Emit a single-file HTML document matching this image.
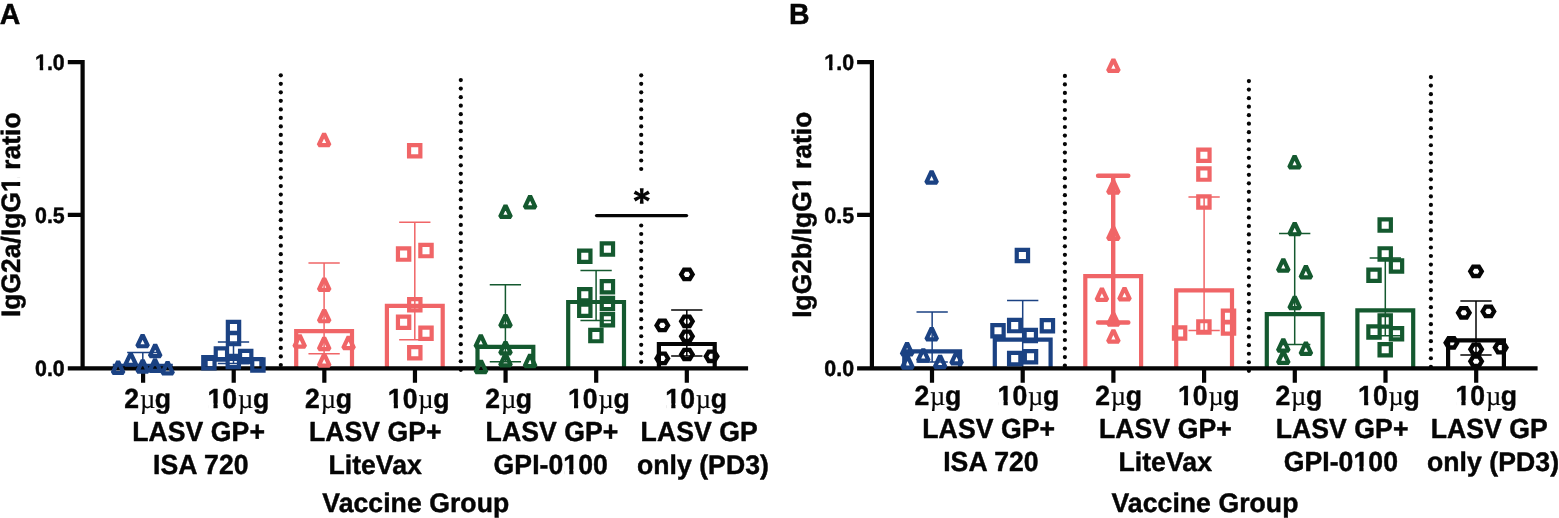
<!DOCTYPE html>
<html lang="en"><head><meta charset="utf-8"><title>IgG subclass ratios by vaccine group</title>
<style>html,body{margin:0;padding:0;background:#fff}svg{display:block}text{font-family:"Liberation Sans",Arial,sans-serif;font-weight:700;text-rendering:geometricPrecision;fill:#050505;stroke:#050505;stroke-width:4.5px;stroke-linejoin:round}.mu{font-family:"Liberation Serif","DejaVu Serif",serif;font-weight:400;stroke-width:1.5px}</style>
</head><body>
<svg width="1559" height="518" viewBox="0 0 1559 518">
<rect width="1559" height="518" fill="#fff"/>
<defs><clipPath id="c0"><path clip-rule="evenodd" d="M-3000 -700H6000V400H-3000ZM-292.57 -41.88H-250.27V40H-292.57ZM-216.34 -41.88H-176.76V40H-216.34Z"/></clipPath><clipPath id="c1"><path clip-rule="evenodd" d="M-3000 -700H6000V400H-3000ZM8.82 -47.23H60.07V40H8.82ZM101.2 -47.23H149.06V40H101.2Z"/></clipPath><clipPath id="c2"><path clip-rule="evenodd" d="M-3000 -700H6000V400H-3000ZM705.72 -47.23H756.97V40H705.72ZM798.1 -47.23H845.96V40H798.1Z"/></clipPath><clipPath id="c3"><path clip-rule="evenodd" d="M-3000 -700H6000V400H-3000ZM236.72 -47.03H287.62V40H236.72ZM328.48 -47.03H376.02V40H328.48Z"/></clipPath><clipPath id="c4"><path clip-rule="evenodd" d="M-3000 -700H6000V400H-3000ZM243.83 -47.03H294.74V40H243.83ZM335.6 -47.03H383.14V40H335.6Z"/></clipPath></defs>
<g fill="#050505">
<circle cx="280.8" cy="75.3" r="2.1"/>
<circle cx="280.8" cy="83.82" r="2.1"/>
<circle cx="280.8" cy="92.34" r="2.1"/>
<circle cx="280.8" cy="100.86" r="2.1"/>
<circle cx="280.8" cy="109.38" r="2.1"/>
<circle cx="280.8" cy="117.9" r="2.1"/>
<circle cx="280.8" cy="126.42" r="2.1"/>
<circle cx="280.8" cy="134.94" r="2.1"/>
<circle cx="280.8" cy="143.46" r="2.1"/>
<circle cx="280.8" cy="151.98" r="2.1"/>
<circle cx="280.8" cy="160.5" r="2.1"/>
<circle cx="280.8" cy="169.02" r="2.1"/>
<circle cx="280.8" cy="177.54" r="2.1"/>
<circle cx="280.8" cy="186.06" r="2.1"/>
<circle cx="280.8" cy="194.58" r="2.1"/>
<circle cx="280.8" cy="203.1" r="2.1"/>
<circle cx="280.8" cy="211.62" r="2.1"/>
<circle cx="280.8" cy="220.14" r="2.1"/>
<circle cx="280.8" cy="228.66" r="2.1"/>
<circle cx="280.8" cy="237.18" r="2.1"/>
<circle cx="280.8" cy="245.7" r="2.1"/>
<circle cx="280.8" cy="254.22" r="2.1"/>
<circle cx="280.8" cy="262.74" r="2.1"/>
<circle cx="280.8" cy="271.26" r="2.1"/>
<circle cx="280.8" cy="279.78" r="2.1"/>
<circle cx="280.8" cy="288.3" r="2.1"/>
<circle cx="280.8" cy="296.82" r="2.1"/>
<circle cx="280.8" cy="305.34" r="2.1"/>
<circle cx="280.8" cy="313.86" r="2.1"/>
<circle cx="280.8" cy="322.38" r="2.1"/>
<circle cx="280.8" cy="330.9" r="2.1"/>
<circle cx="280.8" cy="339.42" r="2.1"/>
<circle cx="280.8" cy="347.94" r="2.1"/>
<circle cx="280.8" cy="356.46" r="2.1"/>
<circle cx="280.8" cy="364.98" r="2.1"/>
<circle cx="460.8" cy="80.1" r="2.1"/>
<circle cx="460.8" cy="88.62" r="2.1"/>
<circle cx="460.8" cy="97.14" r="2.1"/>
<circle cx="460.8" cy="105.66" r="2.1"/>
<circle cx="460.8" cy="114.18" r="2.1"/>
<circle cx="460.8" cy="122.7" r="2.1"/>
<circle cx="460.8" cy="131.22" r="2.1"/>
<circle cx="460.8" cy="139.74" r="2.1"/>
<circle cx="460.8" cy="148.26" r="2.1"/>
<circle cx="460.8" cy="156.78" r="2.1"/>
<circle cx="460.8" cy="165.3" r="2.1"/>
<circle cx="460.8" cy="173.82" r="2.1"/>
<circle cx="460.8" cy="182.34" r="2.1"/>
<circle cx="460.8" cy="190.86" r="2.1"/>
<circle cx="460.8" cy="199.38" r="2.1"/>
<circle cx="460.8" cy="207.9" r="2.1"/>
<circle cx="460.8" cy="216.42" r="2.1"/>
<circle cx="460.8" cy="224.94" r="2.1"/>
<circle cx="460.8" cy="233.46" r="2.1"/>
<circle cx="460.8" cy="241.98" r="2.1"/>
<circle cx="460.8" cy="250.5" r="2.1"/>
<circle cx="460.8" cy="259.02" r="2.1"/>
<circle cx="460.8" cy="267.54" r="2.1"/>
<circle cx="460.8" cy="276.06" r="2.1"/>
<circle cx="460.8" cy="284.58" r="2.1"/>
<circle cx="460.8" cy="293.1" r="2.1"/>
<circle cx="460.8" cy="301.62" r="2.1"/>
<circle cx="460.8" cy="310.14" r="2.1"/>
<circle cx="460.8" cy="318.66" r="2.1"/>
<circle cx="460.8" cy="327.18" r="2.1"/>
<circle cx="460.8" cy="335.7" r="2.1"/>
<circle cx="460.8" cy="344.22" r="2.1"/>
<circle cx="460.8" cy="352.74" r="2.1"/>
<circle cx="460.8" cy="361.26" r="2.1"/>
<circle cx="460.8" cy="369.78" r="2.1"/>
<circle cx="641.2" cy="75.3" r="2.1"/>
<circle cx="641.2" cy="83.82" r="2.1"/>
<circle cx="641.2" cy="92.34" r="2.1"/>
<circle cx="641.2" cy="100.86" r="2.1"/>
<circle cx="641.2" cy="109.38" r="2.1"/>
<circle cx="641.2" cy="117.9" r="2.1"/>
<circle cx="641.2" cy="126.42" r="2.1"/>
<circle cx="641.2" cy="134.94" r="2.1"/>
<circle cx="641.2" cy="143.46" r="2.1"/>
<circle cx="641.2" cy="151.98" r="2.1"/>
<circle cx="641.2" cy="160.5" r="2.1"/>
<circle cx="641.2" cy="169.02" r="2.1"/>
<circle cx="641.2" cy="225.5" r="2.1"/>
<circle cx="641.2" cy="234.02" r="2.1"/>
<circle cx="641.2" cy="242.54" r="2.1"/>
<circle cx="641.2" cy="251.06" r="2.1"/>
<circle cx="641.2" cy="259.58" r="2.1"/>
<circle cx="641.2" cy="268.1" r="2.1"/>
<circle cx="641.2" cy="276.62" r="2.1"/>
<circle cx="641.2" cy="285.14" r="2.1"/>
<circle cx="641.2" cy="293.66" r="2.1"/>
<circle cx="641.2" cy="302.18" r="2.1"/>
<circle cx="641.2" cy="310.7" r="2.1"/>
<circle cx="641.2" cy="319.22" r="2.1"/>
<circle cx="641.2" cy="327.74" r="2.1"/>
<circle cx="641.2" cy="336.26" r="2.1"/>
<circle cx="641.2" cy="344.78" r="2.1"/>
<circle cx="641.2" cy="353.3" r="2.1"/>
<circle cx="641.2" cy="361.82" r="2.1"/>
<circle cx="1064.9" cy="75.9" r="2.1"/>
<circle cx="1064.9" cy="84.42" r="2.1"/>
<circle cx="1064.9" cy="92.94" r="2.1"/>
<circle cx="1064.9" cy="101.46" r="2.1"/>
<circle cx="1064.9" cy="109.98" r="2.1"/>
<circle cx="1064.9" cy="118.5" r="2.1"/>
<circle cx="1064.9" cy="127.02" r="2.1"/>
<circle cx="1064.9" cy="135.54" r="2.1"/>
<circle cx="1064.9" cy="144.06" r="2.1"/>
<circle cx="1064.9" cy="152.58" r="2.1"/>
<circle cx="1064.9" cy="161.1" r="2.1"/>
<circle cx="1064.9" cy="169.62" r="2.1"/>
<circle cx="1064.9" cy="178.14" r="2.1"/>
<circle cx="1064.9" cy="186.66" r="2.1"/>
<circle cx="1064.9" cy="195.18" r="2.1"/>
<circle cx="1064.9" cy="203.7" r="2.1"/>
<circle cx="1064.9" cy="212.22" r="2.1"/>
<circle cx="1064.9" cy="220.74" r="2.1"/>
<circle cx="1064.9" cy="229.26" r="2.1"/>
<circle cx="1064.9" cy="237.78" r="2.1"/>
<circle cx="1064.9" cy="246.3" r="2.1"/>
<circle cx="1064.9" cy="254.82" r="2.1"/>
<circle cx="1064.9" cy="263.34" r="2.1"/>
<circle cx="1064.9" cy="271.86" r="2.1"/>
<circle cx="1064.9" cy="280.38" r="2.1"/>
<circle cx="1064.9" cy="288.9" r="2.1"/>
<circle cx="1064.9" cy="297.42" r="2.1"/>
<circle cx="1064.9" cy="305.94" r="2.1"/>
<circle cx="1064.9" cy="314.46" r="2.1"/>
<circle cx="1064.9" cy="322.98" r="2.1"/>
<circle cx="1064.9" cy="331.5" r="2.1"/>
<circle cx="1064.9" cy="340.02" r="2.1"/>
<circle cx="1064.9" cy="348.54" r="2.1"/>
<circle cx="1064.9" cy="357.06" r="2.1"/>
<circle cx="1064.9" cy="365.58" r="2.1"/>
<circle cx="1248.9" cy="81.1" r="2.1"/>
<circle cx="1248.9" cy="89.62" r="2.1"/>
<circle cx="1248.9" cy="98.14" r="2.1"/>
<circle cx="1248.9" cy="106.66" r="2.1"/>
<circle cx="1248.9" cy="115.18" r="2.1"/>
<circle cx="1248.9" cy="123.7" r="2.1"/>
<circle cx="1248.9" cy="132.22" r="2.1"/>
<circle cx="1248.9" cy="140.74" r="2.1"/>
<circle cx="1248.9" cy="149.26" r="2.1"/>
<circle cx="1248.9" cy="157.78" r="2.1"/>
<circle cx="1248.9" cy="166.3" r="2.1"/>
<circle cx="1248.9" cy="174.82" r="2.1"/>
<circle cx="1248.9" cy="183.34" r="2.1"/>
<circle cx="1248.9" cy="191.86" r="2.1"/>
<circle cx="1248.9" cy="200.38" r="2.1"/>
<circle cx="1248.9" cy="208.9" r="2.1"/>
<circle cx="1248.9" cy="217.42" r="2.1"/>
<circle cx="1248.9" cy="225.94" r="2.1"/>
<circle cx="1248.9" cy="234.46" r="2.1"/>
<circle cx="1248.9" cy="242.98" r="2.1"/>
<circle cx="1248.9" cy="251.5" r="2.1"/>
<circle cx="1248.9" cy="260.02" r="2.1"/>
<circle cx="1248.9" cy="268.54" r="2.1"/>
<circle cx="1248.9" cy="277.06" r="2.1"/>
<circle cx="1248.9" cy="285.58" r="2.1"/>
<circle cx="1248.9" cy="294.1" r="2.1"/>
<circle cx="1248.9" cy="302.62" r="2.1"/>
<circle cx="1248.9" cy="311.14" r="2.1"/>
<circle cx="1248.9" cy="319.66" r="2.1"/>
<circle cx="1248.9" cy="328.18" r="2.1"/>
<circle cx="1248.9" cy="336.7" r="2.1"/>
<circle cx="1248.9" cy="345.22" r="2.1"/>
<circle cx="1248.9" cy="353.74" r="2.1"/>
<circle cx="1248.9" cy="362.26" r="2.1"/>
<circle cx="1248.9" cy="370.78" r="2.1"/>
<circle cx="1430.9" cy="77.1" r="2.1"/>
<circle cx="1430.9" cy="85.62" r="2.1"/>
<circle cx="1430.9" cy="94.14" r="2.1"/>
<circle cx="1430.9" cy="102.66" r="2.1"/>
<circle cx="1430.9" cy="111.18" r="2.1"/>
<circle cx="1430.9" cy="119.7" r="2.1"/>
<circle cx="1430.9" cy="128.22" r="2.1"/>
<circle cx="1430.9" cy="136.74" r="2.1"/>
<circle cx="1430.9" cy="145.26" r="2.1"/>
<circle cx="1430.9" cy="153.78" r="2.1"/>
<circle cx="1430.9" cy="162.3" r="2.1"/>
<circle cx="1430.9" cy="170.82" r="2.1"/>
<circle cx="1430.9" cy="179.34" r="2.1"/>
<circle cx="1430.9" cy="187.86" r="2.1"/>
<circle cx="1430.9" cy="196.38" r="2.1"/>
<circle cx="1430.9" cy="204.9" r="2.1"/>
<circle cx="1430.9" cy="213.42" r="2.1"/>
<circle cx="1430.9" cy="221.94" r="2.1"/>
<circle cx="1430.9" cy="230.46" r="2.1"/>
<circle cx="1430.9" cy="238.98" r="2.1"/>
<circle cx="1430.9" cy="247.5" r="2.1"/>
<circle cx="1430.9" cy="256.02" r="2.1"/>
<circle cx="1430.9" cy="264.54" r="2.1"/>
<circle cx="1430.9" cy="273.06" r="2.1"/>
<circle cx="1430.9" cy="281.58" r="2.1"/>
<circle cx="1430.9" cy="290.1" r="2.1"/>
<circle cx="1430.9" cy="298.62" r="2.1"/>
<circle cx="1430.9" cy="307.14" r="2.1"/>
<circle cx="1430.9" cy="315.66" r="2.1"/>
<circle cx="1430.9" cy="324.18" r="2.1"/>
<circle cx="1430.9" cy="332.7" r="2.1"/>
<circle cx="1430.9" cy="341.22" r="2.1"/>
<circle cx="1430.9" cy="349.74" r="2.1"/>
<circle cx="1430.9" cy="358.26" r="2.1"/>
<circle cx="1430.9" cy="366.78" r="2.1"/>
</g>
<path d="M114.9 368.3V365.9H170.7V368.3" fill="none" stroke="#1b4283" stroke-width="4.2" stroke-linejoin="miter"/>
<path d="M205.6 368.3V359H261.4V368.3" fill="none" stroke="#1b4283" stroke-width="4.2" stroke-linejoin="miter"/>
<path d="M296.2 368.3V331.2H352V368.3" fill="none" stroke="#f06567" stroke-width="4.2" stroke-linejoin="miter"/>
<path d="M386.9 368.3V305.9H442.7V368.3" fill="none" stroke="#f06567" stroke-width="4.2" stroke-linejoin="miter"/>
<path d="M477.5 368.3V346.8H533.3V368.3" fill="none" stroke="#14592f" stroke-width="4.2" stroke-linejoin="miter"/>
<path d="M568.2 368.3V302H624V368.3" fill="none" stroke="#14592f" stroke-width="4.2" stroke-linejoin="miter"/>
<path d="M658.9 368.3V344H714.7V368.3" fill="none" stroke="#050505" stroke-width="4.2" stroke-linejoin="miter"/>
<path d="M904.25 368.3V351.3H960.05V368.3" fill="none" stroke="#1b4283" stroke-width="4.2" stroke-linejoin="miter"/>
<path d="M994.8 368.3V339.6H1050.6V368.3" fill="none" stroke="#1b4283" stroke-width="4.2" stroke-linejoin="miter"/>
<path d="M1085.3 368.3V276.2H1141.1V368.3" fill="none" stroke="#f06567" stroke-width="4.2" stroke-linejoin="miter"/>
<path d="M1176.2 368.3V290.3H1232V368.3" fill="none" stroke="#f06567" stroke-width="4.2" stroke-linejoin="miter"/>
<path d="M1266.8 368.3V314.2H1322.6V368.3" fill="none" stroke="#14592f" stroke-width="4.2" stroke-linejoin="miter"/>
<path d="M1357.4 368.3V310.4H1413.2V368.3" fill="none" stroke="#14592f" stroke-width="4.2" stroke-linejoin="miter"/>
<path d="M1448.1 368.3V340.4H1503.9V368.3" fill="none" stroke="#050505" stroke-width="4.2" stroke-linejoin="miter"/>
<path d="M142.8 352.4V367.9M127.15 352.4H158.45M127.15 367.9H158.45" fill="none" stroke="#1b4283" stroke-width="1.5"/>
<path d="M233.5 342.1V363.4M217.85 342.1H249.15M217.85 363.4H249.15" fill="none" stroke="#1b4283" stroke-width="1.5"/>
<path d="M324.1 262.9V353.7M308.45 262.9H339.75M308.45 353.7H339.75" fill="none" stroke="#f06567" stroke-width="1.5"/>
<path d="M414.8 222.3V339.75M399.15 222.3H430.45M399.15 339.75H430.45" fill="none" stroke="#f06567" stroke-width="1.5"/>
<path d="M505.4 284.7V361.8M489.75 284.7H521.05M489.75 361.8H521.05" fill="none" stroke="#14592f" stroke-width="1.5"/>
<path d="M596.1 270.4V320.4M580.45 270.4H611.75M580.45 320.4H611.75" fill="none" stroke="#14592f" stroke-width="1.5"/>
<path d="M686.8 310.1V355.9M671.15 310.1H702.45M671.15 355.9H702.45" fill="none" stroke="#050505" stroke-width="1.5"/>
<path d="M932.15 311.9V361.9M916.5 311.9H947.8M916.5 361.9H947.8" fill="none" stroke="#1b4283" stroke-width="1.5"/>
<path d="M1022.7 300.4V367.6M1007.05 300.4H1038.35M1007.05 367.6H1038.35" fill="none" stroke="#1b4283" stroke-width="1.5"/>
<path d="M1113.2 175.8V322.5M1098.05 175.8H1128.35M1098.05 322.5H1128.35" fill="none" stroke="#f06567" stroke-width="4.4" stroke-linecap="round"/>
<path d="M1204.1 197V330.5M1188.45 197H1219.75M1188.45 330.5H1219.75" fill="none" stroke="#f06567" stroke-width="1.5"/>
<path d="M1294.7 233.6V344.5M1279.05 233.6H1310.35M1279.05 344.5H1310.35" fill="none" stroke="#14592f" stroke-width="1.5"/>
<path d="M1385.3 258V335.8M1369.65 258H1400.95M1369.65 335.8H1400.95" fill="none" stroke="#14592f" stroke-width="1.5"/>
<path d="M1476 301.1V355M1460.35 301.1H1491.65M1460.35 355H1491.65" fill="none" stroke="#050505" stroke-width="1.5"/>
<path d="M82.6 60.1V370.4M80.5 368.3H748.1M67.8 62.2H82.6M67.8 214.9H82.6M67.8 368.3H82.6M143.1 368.3V382.7M233.72 368.3V382.7M324.34 368.3V382.7M414.96 368.3V382.7M505.58 368.3V382.7M596.2 368.3V382.7M686.82 368.3V382.7" fill="none" stroke="#050505" stroke-width="4.2"/>
<path d="M871.9 60.1V370.4M869.8 368.3H1537.6M857.1 62.2H871.9M857.1 214.9H871.9M857.1 368.3H871.9M932 368.3V382.7M1022.7 368.3V382.7M1113.4 368.3V382.7M1204.1 368.3V382.7M1294.8 368.3V382.7M1385.5 368.3V382.7M1476.2 368.3V382.7" fill="none" stroke="#050505" stroke-width="4.2"/>
<path d="M142.6 334.78L148 346.25L137.2 346.25ZM155.2 344.58L160.6 356.05L149.8 356.05ZM130.7 353.28L136.1 364.75L125.3 364.75ZM118.1 361.38L123.5 372.85L112.7 372.85ZM142.7 360.08L148.1 371.55L137.3 371.55ZM155 359.48L160.4 370.95L149.6 370.95ZM167.6 361.88L173 373.35L162.2 373.35Z" fill="none" stroke="#1b4283" stroke-width="4.2" stroke-linejoin="bevel"/>
<path d="M227.85 321.85h11.3v11.3h-11.3ZM227.85 332.95h11.3v11.3h-11.3ZM215.75 348.35h11.3v11.3h-11.3ZM240.05 350.95h11.3v11.3h-11.3ZM203.25 357.05h11.3v11.3h-11.3ZM227.65 355.85h11.3v11.3h-11.3ZM252.25 359.25h11.3v11.3h-11.3Z" fill="none" stroke="#1b4283" stroke-width="4.2" stroke-linejoin="miter"/>
<path d="M324.1 133.68L329.5 145.15L318.7 145.15ZM324.2 278.48L329.6 289.95L318.8 289.95ZM324.2 309.78L329.6 321.25L318.8 321.25ZM299.7 335.08L305.1 346.55L294.3 346.55ZM324.2 337.58L329.6 349.05L318.8 349.05ZM348.6 336.68L354 348.15L343.2 348.15ZM324.2 354.08L329.6 365.55L318.8 365.55Z" fill="none" stroke="#f06567" stroke-width="4.2" stroke-linejoin="bevel"/>
<path d="M409.05 145.15h11.3v11.3h-11.3ZM397.95 248.45h11.3v11.3h-11.3ZM420.35 244.95h11.3v11.3h-11.3ZM409.15 299.15h11.3v11.3h-11.3ZM397.95 316.55h11.3v11.3h-11.3ZM420.35 327.65h11.3v11.3h-11.3ZM409.15 347.15h11.3v11.3h-11.3Z" fill="none" stroke="#f06567" stroke-width="4.2" stroke-linejoin="miter"/>
<path d="M505.5 205.38L510.9 216.85L500.1 216.85ZM530.1 195.88L535.5 207.35L524.7 207.35ZM505.5 314.78L510.9 326.25L500.1 326.25ZM480.8 335.18L486.2 346.65L475.4 346.65ZM505.5 341.88L510.9 353.35L500.1 353.35ZM505.5 353.98L510.9 365.45L500.1 365.45ZM530.1 354.68L535.5 366.15L524.7 366.15ZM481 360.68L486.4 372.15L475.6 372.15Z" fill="none" stroke="#14592f" stroke-width="4.2" stroke-linejoin="bevel"/>
<path d="M601.75 243.45h11.3v11.3h-11.3ZM579.15 250.55h11.3v11.3h-11.3ZM601.75 281.05h11.3v11.3h-11.3ZM579.15 289.15h11.3v11.3h-11.3ZM601.75 297.85h11.3v11.3h-11.3ZM579.15 304.65h11.3v11.3h-11.3ZM601.75 314.05h11.3v11.3h-11.3ZM590.25 329.95h11.3v11.3h-11.3Z" fill="none" stroke="#14592f" stroke-width="4.2" stroke-linejoin="miter"/>
<path d="M692.65 274.4L689.77 279.1L684.02 279.1L681.15 274.4L684.02 269.7L689.77 269.7ZM668.05 325.4L665.17 330.1L659.42 330.1L656.55 325.4L659.42 320.7L665.17 320.7ZM692.65 321.3L689.77 326L684.02 326L681.15 321.3L684.02 316.6L689.77 316.6ZM692.65 336.3L689.77 341L684.02 341L681.15 336.3L684.02 331.6L689.77 331.6ZM692.65 354.5L689.77 359.2L684.02 359.2L681.15 354.5L684.02 349.8L689.77 349.8ZM668.05 358.4L665.17 363.1L659.42 363.1L656.55 358.4L659.42 353.7L665.17 353.7ZM717.35 356.3L714.48 361L708.73 361L705.85 356.3L708.73 351.6L714.48 351.6Z" fill="none" stroke="#050505" stroke-width="4.3" stroke-linejoin="miter"/>
<path d="M931.6 171.08L937 182.55L926.2 182.55ZM931.7 327.98L937.1 339.45L926.3 339.45ZM907.1 342.98L912.5 354.45L901.7 354.45ZM923.3 349.18L928.7 360.65L917.9 360.65ZM956.6 351.98L962 363.45L951.2 363.45ZM940.1 355.68L945.5 367.15L934.7 367.15ZM907.5 356.08L912.9 367.55L902.1 367.55Z" fill="none" stroke="#1b4283" stroke-width="4.2" stroke-linejoin="bevel"/>
<path d="M1016.75 249.85h11.3v11.3h-11.3ZM992.35 325.05h11.3v11.3h-11.3ZM1009.05 319.95h11.3v11.3h-11.3ZM1024.65 329.85h11.3v11.3h-11.3ZM1041.75 320.15h11.3v11.3h-11.3ZM1009.05 352.95h11.3v11.3h-11.3ZM1024.85 351.05h11.3v11.3h-11.3Z" fill="none" stroke="#1b4283" stroke-width="4.2" stroke-linejoin="miter"/>
<path d="M1113.4 59.38L1118.8 70.85L1108 70.85ZM1113.4 181.08L1118.8 192.55L1108 192.55ZM1113.4 227.38L1118.8 238.85L1108 238.85ZM1101.9 288.38L1107.3 299.85L1096.5 299.85ZM1124.5 287.98L1129.9 299.45L1119.1 299.45ZM1113.4 313.28L1118.8 324.75L1108 324.75ZM1113.4 330.08L1118.8 341.55L1108 341.55Z" fill="none" stroke="#f06567" stroke-width="4.2" stroke-linejoin="bevel"/>
<path d="M1198.25 149.55h11.3v11.3h-11.3ZM1198.25 168.45h11.3v11.3h-11.3ZM1198.25 196.35h11.3v11.3h-11.3ZM1222.85 310.55h11.3v11.3h-11.3ZM1222.85 322.35h11.3v11.3h-11.3ZM1198.25 321.25h11.3v11.3h-11.3ZM1173.95 327.35h11.3v11.3h-11.3Z" fill="none" stroke="#f06567" stroke-width="4.2" stroke-linejoin="miter"/>
<path d="M1294.6 155.98L1300 167.45L1289.2 167.45ZM1294.7 222.78L1300.1 234.25L1289.3 234.25ZM1283.3 259.08L1288.7 270.55L1277.9 270.55ZM1305.9 265.88L1311.3 277.35L1300.5 277.35ZM1294.7 296.68L1300.1 308.15L1289.3 308.15ZM1283.3 339.18L1288.7 350.65L1277.9 350.65ZM1305.9 342.38L1311.3 353.85L1300.5 353.85ZM1283.3 351.38L1288.7 362.85L1277.9 362.85Z" fill="none" stroke="#14592f" stroke-width="4.2" stroke-linejoin="bevel"/>
<path d="M1379.55 219.45h11.3v11.3h-11.3ZM1379.55 248.25h11.3v11.3h-11.3ZM1390.85 260.25h11.3v11.3h-11.3ZM1368.35 269.55h11.3v11.3h-11.3ZM1379.55 315.25h11.3v11.3h-11.3ZM1368.35 326.35h11.3v11.3h-11.3ZM1390.85 328.05h11.3v11.3h-11.3ZM1379.55 344.15h11.3v11.3h-11.3Z" fill="none" stroke="#14592f" stroke-width="4.2" stroke-linejoin="miter"/>
<path d="M1481.75 271.3L1478.88 276L1473.12 276L1470.25 271.3L1473.12 266.6L1478.88 266.6ZM1469.55 312.8L1466.67 317.5L1460.92 317.5L1458.05 312.8L1460.92 308.1L1466.67 308.1ZM1494.15 311.4L1491.28 316.1L1485.53 316.1L1482.65 311.4L1485.53 306.7L1491.28 306.7ZM1457.15 342.8L1454.28 347.5L1448.53 347.5L1445.65 342.8L1448.53 338.1L1454.28 338.1ZM1481.85 349.3L1478.97 354L1473.22 354L1470.35 349.3L1473.22 344.6L1478.97 344.6ZM1506.45 347.6L1503.58 352.3L1497.83 352.3L1494.95 347.6L1497.83 342.9L1503.58 342.9ZM1481.85 361.3L1478.97 366L1473.22 366L1470.35 361.3L1473.22 356.6L1478.97 356.6Z" fill="none" stroke="#050505" stroke-width="4.3" stroke-linejoin="miter"/>
<path d="M596.6 215.6H686.5" fill="none" stroke="#050505" stroke-width="3.4" stroke-linecap="round"/>
<text x="641.8" y="213.4" font-size="33" text-anchor="middle" style="font-family:'DejaVu Math TeX Gyre','DejaVu Sans',sans-serif;font-weight:700;stroke:none">*</text>
<text transform="translate(-0.3 24) scale(.1 0.1015)" font-size="286" text-anchor="start">A</text>
<text transform="translate(64.8 70) scale(.1 0.1032)" font-size="214.5" text-anchor="end" clip-path="url(#c0)">1.0</text>
<text transform="translate(64.8 223) scale(.1 0.1032)" font-size="214.5" text-anchor="end">0.5</text>
<text transform="translate(64.8 376) scale(.1 0.1032)" font-size="214.5" text-anchor="end">0.0</text>
<text transform="translate(20 214.75) rotate(-90) scale(.1 0.101)" font-size="265" text-anchor="middle" clip-path="url(#c3)">IgG2a/IgG1 ratio</text>
<text transform="translate(124.3 408) scale(.1 0.1032)" font-size="267" text-anchor="start">2<tspan class="mu" dx="8">µ</tspan><tspan dx="-5">g</tspan></text>
<text transform="translate(485.3 408) scale(.1 0.1032)" font-size="267" text-anchor="start">2<tspan class="mu" dx="8">µ</tspan><tspan dx="-5">g</tspan></text>
<text transform="translate(305.1 408) scale(.1 0.1032)" font-size="267" text-anchor="start">2<tspan class="mu" dx="8">µ</tspan><tspan dx="-5">g</tspan></text>
<text transform="translate(207.5 408) scale(.1 0.1032)" font-size="267" text-anchor="start" clip-path="url(#c1)">10<tspan class="mu" dx="8">µ</tspan><tspan dx="-5">g</tspan></text>
<text transform="translate(387.8 408) scale(.1 0.1032)" font-size="267" text-anchor="start" clip-path="url(#c1)">10<tspan class="mu" dx="8">µ</tspan><tspan dx="-5">g</tspan></text>
<text transform="translate(568 408) scale(.1 0.1032)" font-size="267" text-anchor="start" clip-path="url(#c1)">10<tspan class="mu" dx="8">µ</tspan><tspan dx="-5">g</tspan></text>
<text transform="translate(665.3 408) scale(.1 0.1032)" font-size="267" text-anchor="start" clip-path="url(#c1)">10<tspan class="mu" dx="8">µ</tspan><tspan dx="-5">g</tspan></text>
<text transform="translate(132.2 441) scale(.1 0.1032)" font-size="267" text-anchor="start">LASV GP+</text>
<text transform="translate(308.9 441) scale(.1 0.1032)" font-size="267" text-anchor="start">LASV GP+</text>
<text transform="translate(485.6 441) scale(.1 0.1032)" font-size="267" text-anchor="start">LASV GP+</text>
<text transform="translate(640.6 441) scale(.1 0.1032)" font-size="267" text-anchor="start">LASV GP</text>
<text transform="translate(153.1 474) scale(.1 0.1032)" font-size="267" text-anchor="start">ISA 720</text>
<text transform="translate(328.4 474) scale(.1 0.101)" font-size="267" text-anchor="start">LiteVax</text>
<text transform="translate(493.6 474) scale(.1 0.1032)" font-size="267" text-anchor="start" clip-path="url(#c2)">GPI-0100</text>
<text transform="translate(636.9 474) scale(.1 0.101)" font-size="267" text-anchor="start">only (PD3)</text>
<text transform="translate(322.3 512) scale(.1 0.101)" font-size="267" text-anchor="start">Vaccine Group</text>
<text transform="translate(789 24) scale(.1 0.1015)" font-size="286" text-anchor="start">B</text>
<text transform="translate(854.1 70) scale(.1 0.1032)" font-size="214.5" text-anchor="end" clip-path="url(#c0)">1.0</text>
<text transform="translate(854.1 223) scale(.1 0.1032)" font-size="214.5" text-anchor="end">0.5</text>
<text transform="translate(854.1 376) scale(.1 0.1032)" font-size="214.5" text-anchor="end">0.0</text>
<text transform="translate(811 214.75) rotate(-90) scale(.1 0.101)" font-size="265" text-anchor="middle" clip-path="url(#c4)">IgG2b/IgG1 ratio</text>
<text transform="translate(914.4 405) scale(.1 0.1032)" font-size="267" text-anchor="start">2<tspan class="mu" dx="8">µ</tspan><tspan dx="-5">g</tspan></text>
<text transform="translate(1275.4 405) scale(.1 0.1032)" font-size="267" text-anchor="start">2<tspan class="mu" dx="8">µ</tspan><tspan dx="-5">g</tspan></text>
<text transform="translate(1095.2 405) scale(.1 0.1032)" font-size="267" text-anchor="start">2<tspan class="mu" dx="8">µ</tspan><tspan dx="-5">g</tspan></text>
<text transform="translate(997.6 405) scale(.1 0.1032)" font-size="267" text-anchor="start" clip-path="url(#c1)">10<tspan class="mu" dx="8">µ</tspan><tspan dx="-5">g</tspan></text>
<text transform="translate(1177.9 405) scale(.1 0.1032)" font-size="267" text-anchor="start" clip-path="url(#c1)">10<tspan class="mu" dx="8">µ</tspan><tspan dx="-5">g</tspan></text>
<text transform="translate(1358.1 405) scale(.1 0.1032)" font-size="267" text-anchor="start" clip-path="url(#c1)">10<tspan class="mu" dx="8">µ</tspan><tspan dx="-5">g</tspan></text>
<text transform="translate(1455.4 405) scale(.1 0.1032)" font-size="267" text-anchor="start" clip-path="url(#c1)">10<tspan class="mu" dx="8">µ</tspan><tspan dx="-5">g</tspan></text>
<text transform="translate(922.3 438) scale(.1 0.1032)" font-size="267" text-anchor="start">LASV GP+</text>
<text transform="translate(1099 438) scale(.1 0.1032)" font-size="267" text-anchor="start">LASV GP+</text>
<text transform="translate(1275.7 438) scale(.1 0.1032)" font-size="267" text-anchor="start">LASV GP+</text>
<text transform="translate(1430.7 438) scale(.1 0.1032)" font-size="267" text-anchor="start">LASV GP</text>
<text transform="translate(943.2 471) scale(.1 0.1032)" font-size="267" text-anchor="start">ISA 720</text>
<text transform="translate(1118.5 471) scale(.1 0.101)" font-size="267" text-anchor="start">LiteVax</text>
<text transform="translate(1283.7 471) scale(.1 0.1032)" font-size="267" text-anchor="start" clip-path="url(#c2)">GPI-0100</text>
<text transform="translate(1427 471) scale(.1 0.101)" font-size="267" text-anchor="start">only (PD3)</text>
<text transform="translate(1111.5 512) scale(.1 0.101)" font-size="267" text-anchor="start">Vaccine Group</text>
</svg></body></html>
